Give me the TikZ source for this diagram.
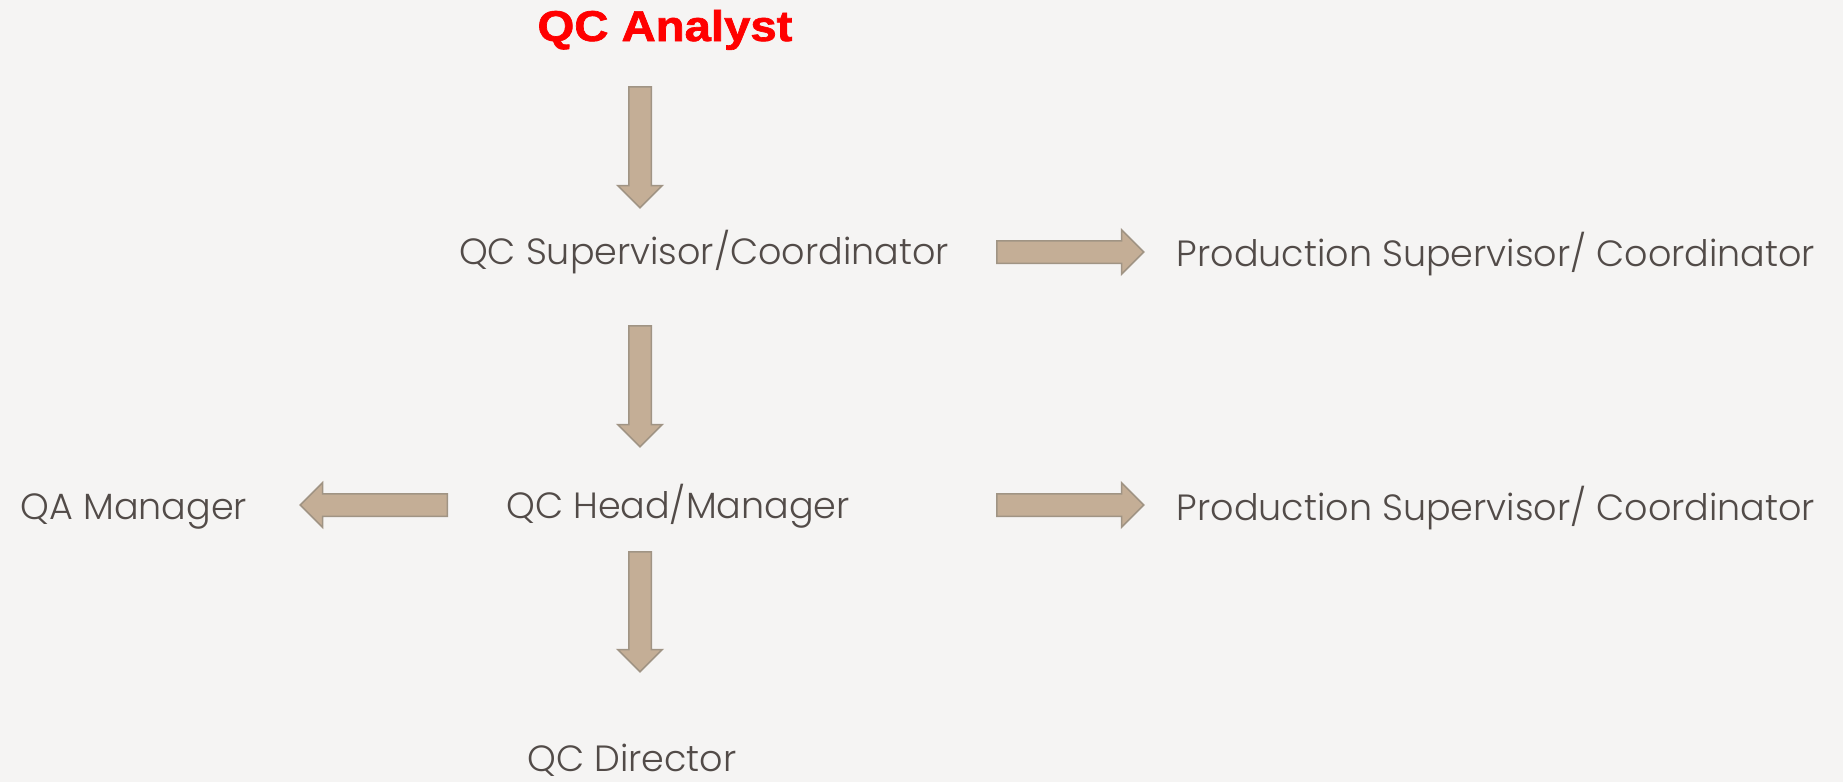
\documentclass[tikz,border=0pt]{standalone}
\usepackage{fontspec}
\setmainfont{Poppins Light}
\newfontfamily\titlefont[FakeBold=1.5]{Liberation Sans Bold}
\usetikzlibrary{shapes.arrows,calc}
\definecolor{bgc}{HTML}{F5F4F3}
\definecolor{txt}{HTML}{524B48}
\definecolor{arrfill}{HTML}{C4AE96}
\definecolor{arrdraw}{HTML}{A09484}
\definecolor{titlered}{HTML}{FF0000}
\tikzset{
  lbl/.style={inner sep=0pt, anchor=base, text=txt, font=\fontsize{36.5}{40}\selectfont},
  ttl/.style={inner sep=0pt, anchor=base, text=titlered, font=\titlefont\fontsize{43}{46}\selectfont},
  blk/.style={single arrow, draw=arrdraw, fill=arrfill, line width=1.5pt,
    inner xsep=0pt, inner ysep=10.5pt, single arrow head extend=11pt,
    single arrow tip angle=90, shape border uses incircle=false}
}
\newcommand\blkarrow[2]{%
  \path let \p1=(#1), \p2=(#2), \n1={atan2(\y2-\y1,\x2-\x1)}, \n2={veclen(\x2-\x1,\y2-\y1)} in
    node[blk, minimum height=\n2, rotate=\n1, anchor=tail] at (\p1) {};}
\begin{document}
\begin{tikzpicture}[x=1pt,y=-1pt]
\fill[bgc] (0,0) rectangle (1843,782);
\useasboundingbox (0,0) rectangle (1843,782);
% texts
\node[ttl] (ana) at (665,41) {\scalebox{1.1}[1]{QC Analyst}};
\node[lbl] (sup) at (704,264) {QC Supervisor/Coordinator};
\node[lbl] (prod1) at (1496,266) {Production Supervisor/ Coordinator};
\node[lbl] (head) at (678,518) {QC Head/Manager};
\node[lbl] (qam) at (134,519) {QA Manager};
\node[lbl] (prod2) at (1496,520) {Production Supervisor/ Coordinator};
\node[lbl] (dir) at (632,771) {QC Director};
% arrow end points
\coordinate (a1s) at (640,86);   \coordinate (a1e) at (640,207);
\coordinate (a2s) at (640,325);  \coordinate (a2e) at (640,446);
\coordinate (a3s) at (640,551);  \coordinate (a3e) at (640,671);
\coordinate (r1s) at (996,252);  \coordinate (r1e) at (1143,252);
\coordinate (r2s) at (996,505);  \coordinate (r2e) at (1143,505);
\coordinate (l1s) at (448,505);  \coordinate (l1e) at (301,505);
\blkarrow{a1s}{a1e}
\blkarrow{a2s}{a2e}
\blkarrow{a3s}{a3e}
\blkarrow{r1s}{r1e}
\blkarrow{r2s}{r2e}
\blkarrow{l1s}{l1e}
\end{tikzpicture}
\end{document}
